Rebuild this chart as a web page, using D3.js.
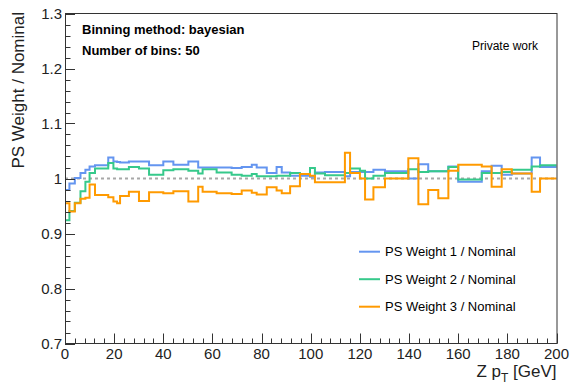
<!DOCTYPE html>
<html>
<head>
	<meta charset="UTF-8">
	<style>
		body { margin: 0; background: #fff; }
		svg { display: block; font-family: "Liberation Sans", Arial, sans-serif; }
		.frame { fill: none; stroke: #333; stroke-width: 1; }
		.tick { stroke: #333; stroke-width: 1; }
		.hist { fill: none; stroke-width: 2; }
	</style>
	<script src="https://cdn.jsdelivr.net/npm/d3@7"></script>
</head>
<body>
<div id="chart"></div>
<script>

	// bayesian bin edges in GeV (50 bins)
	var binEdges = [0, 1.8, 4, 6.3, 8.3, 10, 12.2, 17.6, 19.7, 21.2, 22.4, 26, 30.1, 34.2, 40, 44.1,
		50.2, 54.2, 56, 61.7, 67.8, 71.9, 76, 78, 82.1, 86.1, 88.2, 91.6, 95.6, 99.7, 101.7,
		105.8, 113.9, 116, 120, 122.1, 125.5, 130.2, 139.7, 143.8, 147.8, 151.9, 156, 160,
		169.6, 173.6, 177.7, 181.8, 189.9, 193.3, 200];

	var ratio1 = [0.979, 0.991, 1.001, 1.010, 1.016, 1.022, 1.024, 1.038, 1.031, 1.030,
		1.029, 1.031, 1.031, 1.024, 1.031, 1.025, 1.031, 1.020, 1.020, 1.020,
		1.019, 1.021, 1.025, 1.020, 1.010, 1.021, 1.011, 1.005, 1.005, 1.003,
		1.011, 1.012, 1.004, 1.012, 1.012, 1.012, 1.016, 1.013, 1.000, 1.026,
		1.013, 1.013, 1.022, 0.994, 1.013, 1.023, 1.007, 1.009, 1.038, 1.021];

	var ratio2 = [0.924, 0.941, 0.956, 0.977, 0.994, 1.010, 1.018, 1.028, 1.018, 1.017,
		1.017, 1.021, 1.018, 1.007, 1.015, 1.017, 1.014, 1.009, 1.017, 1.011,
		1.007, 1.005, 1.008, 1.004, 1.004, 1.005, 1.005, 1.010, 1.008, 1.019,
		1.009, 1.006, 1.010, 1.018, 1.014, 1.000, 1.005, 1.010, 1.017, 1.012,
		1.013, 1.013, 1.021, 0.998, 1.010, 1.010, 1.012, 1.016, 1.022, 1.024];

	var ratio3 = [0.955, 0.940, 0.955, 0.963, 0.965, 0.989, 0.970, 0.966, 0.958, 0.955,
		0.968, 0.976, 0.959, 0.975, 0.973, 0.977, 0.958, 0.985, 0.976, 0.973,
		0.972, 0.978, 0.974, 0.971, 0.984, 0.978, 0.973, 0.986, 1.008, 1.005,
		0.993, 0.993, 1.047, 1.010, 1.000, 0.962, 0.984, 1.000, 1.037, 0.953,
		0.979, 0.964, 1.014, 1.025, 1.022, 0.985, 1.017, 1.009, 0.976, 1.000];

	var seriesNames = ["PS Weight 1 / Nominal", "PS Weight 2 / Nominal", "PS Weight 3 / Nominal"];
	var seriesColors = ["#6495f0", "#36c98b", "#ff9a00"];

	var xMajor = [0, 20, 40, 60, 80, 100, 120, 140, 160, 180, 200];
	var yMajor = [0.7, 0.8, 0.9, 1.0, 1.1, 1.2, 1.3];

	var W = 571, H = 387;
	// frame edges (note: "top" is taken by window.top)
	var padL = 65, padR = 556.5, padT = 13.5, padB = 343.5;

	var svg = d3.select("#chart").append("svg")
		.attr("width", W)
		.attr("height", H);

	var x = d3.scaleLinear().domain([0, 200]).range([padL, padR]);
	var y = d3.scaleLinear().domain([0.7, 1.3]).range([padB, padT]);

	// reference line at 1
	svg.append("line")
		.attr("x1", x(0)).attr("x2", x(200))
		.attr("y1", y(1)).attr("y2", y(1))
		.style("stroke", "#a8a8a8")
		.style("stroke-width", 2)
		.style("stroke-dasharray", "3,3");

	// step histograms
	var step = d3.line()
		.x(function(d) { return x(d[0]); })
		.y(function(d) { return y(d[1]); })
		.curve(d3.curveStepAfter);

	[ratio1, ratio2, ratio3].forEach(function(vals, k) {
		var pts = vals.map(function(v, i) { return [binEdges[i], v]; });
		pts.push([binEdges[binEdges.length - 1], vals[vals.length - 1]]);
		svg.append("path")
			.attr("class", "hist")
			.attr("d", step(pts))
			.style("stroke", seriesColors[k]);
	});

	// frame
	svg.append("rect")
		.attr("class", "frame")
		.attr("x", padL + 0.5).attr("y", padT)
		.attr("width", padR - padL).attr("height", padB - padT);

	// y axis ticks (inside), minor every 0.02
	var yMinor = d3.range(0, 31).map(function(i) { return 0.7 + i * 0.02; });
	svg.selectAll(".ytick").data(yMinor).enter().append("line")
		.attr("class", "tick")
		.attr("x1", padL)
		.attr("x2", function(d, i) { return padL + (i % 5 == 0 ? 10 : 5.5); })
		.attr("y1", function(d) { return Math.round(y(d)) + 0.5; })
		.attr("y2", function(d) { return Math.round(y(d)) + 0.5; });

	svg.selectAll(".ylab").data(yMajor).enter().append("text")
		.attr("x", 62)
		.attr("y", function(d) { return y(d) + 5.5; })
		.attr("text-anchor", "end")
		.style("font-size", "15px")
		.style("fill", "#222")
		.text(function(d) { return d3.format("~g")(d); });

	// x axis ticks (inside), minor every 4
	var xMinor = d3.range(0, 51).map(function(i) { return i * 4; });
	svg.selectAll(".xtick").data(xMinor).enter().append("line")
		.attr("class", "tick")
		.attr("x1", function(d) { return Math.round(x(d)) + 0.5; })
		.attr("x2", function(d) { return Math.round(x(d)) + 0.5; })
		.attr("y1", padB)
		.attr("y2", function(d) { return padB - (d % 20 == 0 ? 10 : 5); });

	svg.selectAll(".xlab").data(xMajor).enter().append("text")
		.attr("x", function(d) { return x(d); })
		.attr("y", 358.5)
		.attr("text-anchor", "middle")
		.style("font-size", "15px")
		.style("fill", "#222")
		.text(function(d) { return d; });

	// axis titles
	var xt = svg.append("text")
		.attr("x", padR)
		.attr("y", 377)
		.attr("text-anchor", "end")
		.style("font-size", "17px")
		.style("fill", "#222");
	xt.append("tspan").text("Z p");
	xt.append("tspan").attr("dy", 5).style("font-size", "12px").text("T");
	xt.append("tspan").attr("dy", -5).text(" [GeV]");

	svg.append("text")
		.attr("transform", "translate(23.5,12) rotate(-90)")
		.attr("text-anchor", "end")
		.style("font-size", "17px")
		.style("fill", "#222")
		.text("PS Weight / Nominal");

	// labels
	svg.append("text").attr("x", 82).attr("y", 34)
		.style("font-size", "13px").style("font-weight", "bold")
		.text("Binning method: bayesian");
	svg.append("text").attr("x", 82).attr("y", 55)
		.style("font-size", "13px").style("font-weight", "bold")
		.text("Number of bins: " + (binEdges.length - 1));
	svg.append("text").attr("x", 472).attr("y", 50)
		.style("font-size", "12px")
		.text("Private work");

	// legend
	var leg = svg.selectAll(".leg").data(seriesNames).enter().append("g")
		.attr("transform", function(d, i) { return "translate(359," + (251.7 + i * 27.5) + ")"; });
	leg.append("line")
		.attr("x1", 0).attr("x2", 21)
		.style("stroke", function(d, i) { return seriesColors[i]; })
		.style("stroke-width", 2);
	leg.append("text")
		.attr("x", 26).attr("y", 4.5)
		.style("font-size", "13px")
		.text(function(d) { return d; });

</script>
</body>
</html>
